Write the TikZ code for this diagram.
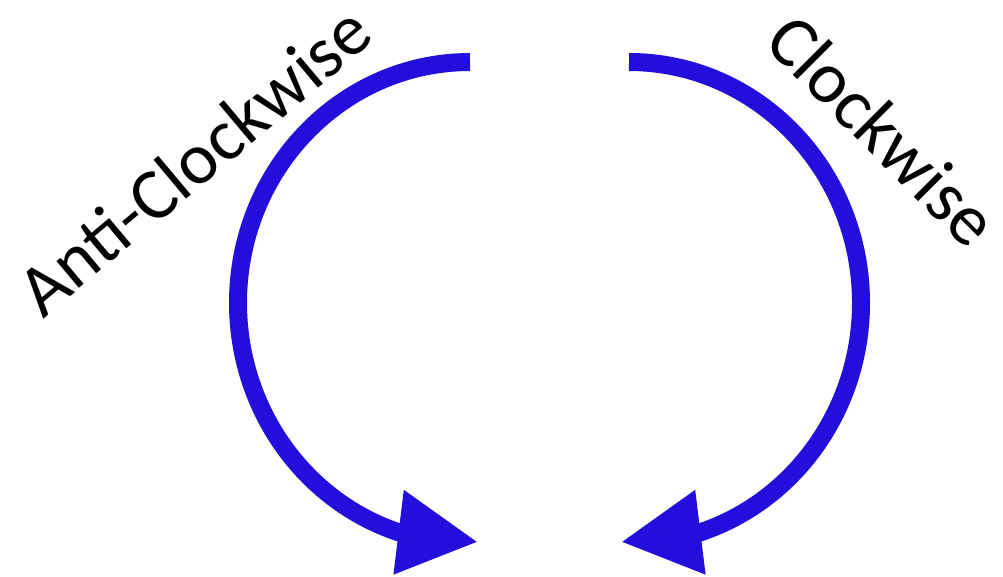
\documentclass[tikz,border=0pt]{standalone}
\usepackage{fontspec}
\setmainfont{Carlito}
\usetikzlibrary{arrows.meta}
\usepackage{xcolor}
\definecolor{arcblue}{RGB}{36,14,220}

\begin{document}
\begin{tikzpicture}[
        x=1pt, y=-1pt,
        spin/.style={
            draw=arcblue,
            line width=18pt,
            -{Triangle[length=80pt, width=80pt]}
        },
        dirlabel/.style={
            font=\fontsize{73}{88}\selectfont,
            inner sep=0pt
        }
    ]
        \useasboundingbox (0,0) rectangle (1003,576);

        \coordinate (acwstart) at (470,62);
        \coordinate (acwtip) at (478,542);
        \coordinate (cwstart) at (629,62);
        \coordinate (cwtip) at (621,542);

        \node[dirlabel, rotate=40] (acw) at (194,160) {Anti-Clockwise};
        \node[dirlabel, rotate=-45] (cw) at (883,130) {Clockwise};

        \draw[spin] (acwstart) arc[start angle=-90, end angle=-252, x radius=232, y radius=241] -- (acwtip);
        \draw[spin] (cwstart) arc[start angle=-90, end angle=72, x radius=232, y radius=241] -- (cwtip);

    \end{tikzpicture}
\end{document}
